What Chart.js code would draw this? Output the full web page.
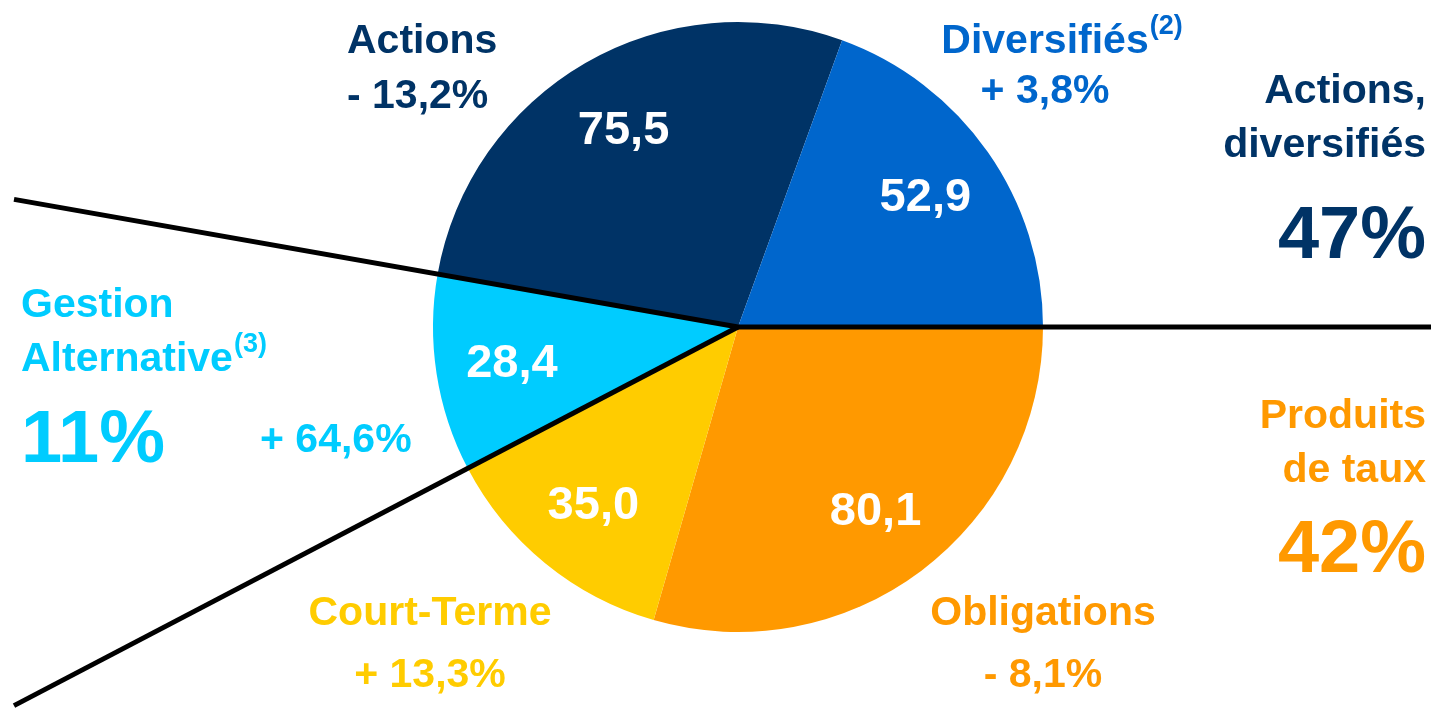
<!DOCTYPE html>
<html>
<head>
<meta charset="utf-8">
<script src="https://cdn.jsdelivr.net/npm/chart.js@4/dist/chart.umd.min.js"></script>
<style>
html,body{margin:0;padding:0;background:#fff;overflow:hidden;}
#wrap{width:1431px;height:712px;position:relative;}
</style>
</head>
<body>
<div id="wrap"><canvas id="c" width="1431" height="712"></canvas></div>
<script>
// ---- data (clockwise from 3 o'clock) ----
const categories = ['Obligations', 'Court-Terme', 'Gestion Alternative', 'Actions', 'Diversifiés'];
const values = [80.1, 35.0, 28.4, 75.5, 52.9];
const changes = ['- 8,1%', '+ 13,3%', '+ 64,6%', '- 13,2%', '+ 3,8%'];
const footnotes = ['', '', '(3)', '', '(2)'];
const groupOf = ['taux', 'taux', 'alt', 'actdiv', 'actdiv'];
const groupNames = { actdiv: ['Actions,', 'diversifiés'], taux: ['Produits', 'de taux'], alt: ['Gestion', 'Alternative'] };
const groupShares = { actdiv: '47%', taux: '42%', alt: '11%' };
const colors = ['#FF9900', '#FFCC00', '#00CCFF', '#003366', '#0066CC'];

const FONT = '"Liberation Sans", Arial, sans-serif';
const fmt = v => v.toFixed(1).replace('.', ',');

// ---- layout of the surrounding text ----
const catLayout = {
  'Actions':             { x: 347,  y1: 53,  y2: 108, align: 'left' },
  'Diversifiés':         { x: 1045, y1: 53,  y2: 103, align: 'center' },
  'Court-Terme':         { x: 430,  y1: 625, y2: 687, align: 'center' },
  'Obligations':         { x: 1043, y1: 625, y2: 687, align: 'center' },
  'Gestion Alternative': { x: 260,  y1: null, y2: 452, align: 'left' }
};
const groupLayout = {
  actdiv: { x: 1426, ys: [103, 157], yPct: 258, align: 'right' },
  taux:   { x: 1426, ys: [428, 482], yPct: 572, align: 'right' },
  alt:    { x: 21,   ys: [317, 371], yPct: 462, align: 'left' }
};

const overlay = {
  id: 'overlay',
  afterDatasetsDraw(chart) {
    const ctx = chart.ctx;
    const arcs = chart.getDatasetMeta(0).data;
    const cx = arcs[0].x, cy = arcs[0].y;
    // value labels inside slices
    ctx.save();
    ctx.fillStyle = '#FFFFFF';
    ctx.font = 'bold 47px ' + FONT;
    ctx.textAlign = 'center';
    ctx.textBaseline = 'middle';
    arcs.forEach((a, i) => {
      const mid = (a.startAngle + a.endAngle) / 2;
      const r = a.outerRadius * 0.75;
      ctx.fillText(fmt(values[i]), cx + r * Math.cos(mid), cy + r * Math.sin(mid) + 2);
    });
    ctx.restore();
    // group separator rays along slice boundaries
    ctx.save();
    ctx.strokeStyle = '#000000';
    ctx.lineWidth = 5;
    ctx.lineCap = 'butt';
    for (let i = 0; i < arcs.length; i++) {
      const prev = (i - 1 + arcs.length) % arcs.length;
      if (groupOf[i] === groupOf[prev]) continue;
      const ang = arcs[i].startAngle;
      const dx = Math.cos(ang), dy = Math.sin(ang);
      const targetX = dx > 0 ? chart.width : 14;
      const t = (targetX - cx) / dx;
      ctx.beginPath();
      ctx.moveTo(cx, cy);
      ctx.lineTo(cx + dx * t, cy + dy * t);
      ctx.stroke();
    }
    ctx.restore();
  },
  afterDraw(chart) {
    const ctx = chart.ctx;
    ctx.save();
    ctx.textBaseline = 'alphabetic';
    // category labels and changes
    categories.forEach((cat, i) => {
      const L = catLayout[cat];
      ctx.fillStyle = colors[i];
      ctx.font = 'bold 41px ' + FONT;
      ctx.textAlign = L.align;
      if (L.y1 !== null) {
        ctx.fillText(cat, L.x, L.y1);
        if (footnotes[i]) {
          const w = ctx.measureText(cat).width;
          const endX = L.align === 'center' ? L.x + w / 2 : L.x + w;
          ctx.font = 'bold 27px ' + FONT;
          ctx.textAlign = 'left';
          ctx.fillText(footnotes[i], endX + 1, L.y1 - 19);
          ctx.font = 'bold 41px ' + FONT;
          ctx.textAlign = L.align;
        }
      }
      ctx.fillText(changes[i], L.x, L.y2);
    });
    // group labels
    Object.keys(groupLayout).forEach(g => {
      const L = groupLayout[g];
      const idx = groupOf.indexOf(g);
      const col = g === 'actdiv' ? colors[3] : colors[idx];
      ctx.fillStyle = col;
      ctx.textAlign = L.align;
      ctx.font = 'bold 41px ' + FONT;
      groupNames[g].forEach((line, k) => {
        ctx.fillText(line, L.x, L.ys[k]);
        if (g === 'alt' && k === 1) {
          const w = ctx.measureText(line).width;
          ctx.font = 'bold 27px ' + FONT;
          ctx.textAlign = 'left';
          ctx.fillText(footnotes[idx], L.x + w + 1, L.ys[k] - 19);
          ctx.font = 'bold 41px ' + FONT;
          ctx.textAlign = L.align;
        }
      });
      ctx.font = 'bold 74px ' + FONT;
      ctx.fillText(groupShares[g], L.x, L.yPct);
    });
    ctx.restore();
  }
};

new Chart(document.getElementById('c'), {
  type: 'pie',
  data: {
    labels: categories,
    datasets: [{
      data: values,
      backgroundColor: colors,
      borderWidth: 0
    }]
  },
  options: {
    responsive: false,
    devicePixelRatio: 1,
    animation: false,
    rotation: 90,
    layout: { padding: { left: 433, right: 388, top: 22, bottom: 80 } },
    plugins: { legend: { display: false }, tooltip: { enabled: false } }
  },
  plugins: [overlay]
});
</script>
</body>
</html>
